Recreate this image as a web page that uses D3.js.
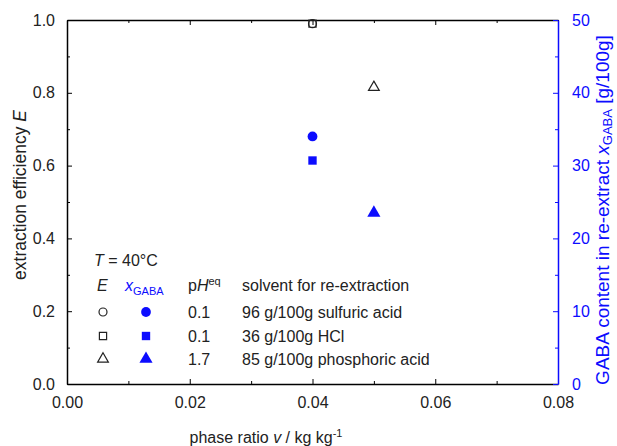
<!DOCTYPE html>
<html><head><meta charset="utf-8">
<script src="https://cdn.jsdelivr.net/npm/d3@7"></script>
<style>body{margin:0;background:#fff}svg{display:block;font-family:"Liberation Sans",Arial,sans-serif}</style>
</head><body><svg id="c" width="617" height="446"></svg>
<script>
const phaseRatio = [0.04, 0.04, 0.05];
const effE = [0.99, 0.99, 0.815];
const xGABA = [34.0, 30.7, 23.5];
const symbols = ["circle", "square", "triangle"];
const pHeq = ["0.1", "0.1", "1.7"];
const solvents = ["96 g/100g sulfuric acid", "36 g/100g HCl", "85 g/100g phosphoric acid"];
const xTicks = [0, 0.02, 0.04, 0.06, 0.08];
const yTicks = [0, 0.2, 0.4, 0.6, 0.8, 1.0];
const y2Ticks = [0, 10, 20, 30, 40, 50];

const blue = "#0c0cff";
const svg = d3.select("#c");
const L = 67, R = 558, T = 20, B = 384;
const x = d3.scaleLinear().domain([0, 0.08]).range([L, R]);
const y = d3.scaleLinear().domain([0, 1]).range([B, T]);
const y2 = d3.scaleLinear().domain([0, 50]).range([B, T]);

// bottom axis
const gb = svg.append("g").attr("transform", `translate(0,${B})`);
gb.call(d3.axisBottom(x).tickValues(xTicks).tickFormat(d3.format(".2f")).tickSizeInner(-5).tickSizeOuter(0).tickPadding(13));
gb.selectAll(".tick text").attr("font-size", 16).attr("fill", "#222");
const gbm = svg.append("g").attr("transform", `translate(0,${B})`);
gbm.call(d3.axisBottom(x).tickValues([0.01,0.03,0.05,0.07]).tickFormat("").tickSizeInner(-3).tickSizeOuter(0));
gbm.select(".domain").remove();
// top axis
const gt = svg.append("g").attr("transform", `translate(0,${T})`);
gt.call(d3.axisTop(x).tickValues(xTicks).tickFormat("").tickSizeInner(-5).tickSizeOuter(0));
const gtm = svg.append("g").attr("transform", `translate(0,${T})`);
gtm.call(d3.axisTop(x).tickValues([0.01,0.03,0.05,0.07]).tickFormat("").tickSizeInner(-3).tickSizeOuter(0));
gtm.select(".domain").remove();
// left axis
const gl = svg.append("g").attr("transform", `translate(${L},0)`);
gl.call(d3.axisLeft(y).tickValues(yTicks).tickFormat(d3.format(".1f")).tickSizeInner(-5).tickSizeOuter(0).tickPadding(12));
gl.selectAll(".tick text").attr("font-size", 16).attr("fill", "#222");
const glm = svg.append("g").attr("transform", `translate(${L},0)`);
glm.call(d3.axisLeft(y).tickValues([0.1,0.3,0.5,0.7,0.9]).tickFormat("").tickSizeInner(-3).tickSizeOuter(0));
glm.select(".domain").remove();
// right axis
const gr = svg.append("g").attr("transform", `translate(${R},0)`);
gr.call(d3.axisRight(y2).tickValues(y2Ticks).tickSizeInner(-5).tickSizeOuter(0).tickPadding(14));
gr.selectAll(".tick text").attr("font-size", 16).attr("fill", blue);
gr.selectAll("line,path").attr("stroke", blue);
const grm = svg.append("g").attr("transform", `translate(${R},0)`);
grm.call(d3.axisRight(y2).tickValues([5,15,25,35,45]).tickFormat("").tickSizeInner(-3).tickSizeOuter(0));
grm.select(".domain").remove();
grm.selectAll("line").attr("stroke", blue);
svg.selectAll(".domain").attr("stroke-width", 1.5);
gr.select(".domain").attr("stroke", blue);

// axis labels
const xl = svg.append("text").attr("x", 266).attr("y", 443).attr("text-anchor", "middle").attr("font-size", 16).attr("fill", "#222");
xl.append("tspan").text("phase ratio ");
xl.append("tspan").attr("font-style", "italic").text("v");
xl.append("tspan").text(" / kg kg");
xl.append("tspan").attr("font-size", 11).attr("dy", -6).text("-1");

const yl = svg.append("text").attr("transform", `translate(26,195) rotate(-90)`).attr("text-anchor", "middle").attr("font-size", 17.5).attr("fill", "#222");
yl.append("tspan").text("extraction efficiency ");
yl.append("tspan").attr("font-style", "italic").text("E");

const y2l = svg.append("text").attr("transform", `translate(609,210) rotate(-90)`).attr("text-anchor", "middle").attr("font-size", 19).attr("fill", blue);
y2l.append("tspan").text("GABA content in re-extract ");
y2l.append("tspan").attr("font-style", "italic").text("x");
y2l.append("tspan").attr("font-size", 13).attr("dy", 3).text("GABA");
y2l.append("tspan").attr("dy", -3).text(" [g/100g]");

// symbols
const symType = { circle: d3.symbolCircle, square: d3.symbolSquare, triangle: d3.symbolTriangle };
function sym(name, open) {
  const sizes = open ? { circle: 50, square: 52, triangle: 50 } : { circle: 75, square: 70, triangle: 75 };
  return d3.symbol().type(symType[name]).size(sizes[name])();
}
const pts = phaseRatio.map((v, i) => ({ v, E: effE[i], g: xGABA[i], s: symbols[i] }));
svg.append("g").selectAll("path").data(pts).join("path")
  .attr("transform", d => `translate(${x(d.v)},${y(d.E)})`)
  .attr("d", d => sym(d.s, true)).attr("fill", "none").attr("stroke", "#222").attr("stroke-width", 1.2);
svg.append("g").selectAll("path").data(pts).join("path")
  .attr("transform", d => `translate(${x(d.v)},${y2(d.g)})`)
  .attr("d", d => sym(d.s, false)).attr("fill", blue);

// legend
const lg = svg.append("g").attr("font-size", 16).attr("fill", "#222");
const t1 = lg.append("text").attr("x", 94).attr("y", 266);
t1.append("tspan").attr("font-style", "italic").text("T");
t1.append("tspan").text(" = 40°C");
lg.append("text").attr("x", 97).attr("y", 291).attr("font-style", "italic").text("E");
const hx = lg.append("text").attr("x", 125).attr("y", 291).attr("fill", blue);
hx.append("tspan").attr("font-style", "italic").text("x");
hx.append("tspan").attr("font-size", 11).attr("dy", 4).text("GABA");
const hp = lg.append("text").attr("x", 188).attr("y", 291);
hp.append("tspan").text("p");
hp.append("tspan").attr("font-style", "italic").text("H");
hp.append("tspan").attr("font-size", 11).attr("dy", -6).text("eq");
lg.append("text").attr("x", 242).attr("y", 291).text("solvent for re-extraction");
const rowY = [312, 336, 359];
symbols.forEach((s, i) => {
  lg.append("path").attr("transform", `translate(103,${rowY[i]})`).attr("d", sym(s, true)).attr("fill", "none").attr("stroke", "#222").attr("stroke-width", 1.2);
  lg.append("path").attr("transform", `translate(146,${rowY[i]})`).attr("d", sym(s, false)).attr("fill", blue);
  lg.append("text").attr("x", 188).attr("y", rowY[i] + 6).text(pHeq[i]);
  lg.append("text").attr("x", 242).attr("y", rowY[i] + 6).text(solvents[i]);
});
</script></body></html>
